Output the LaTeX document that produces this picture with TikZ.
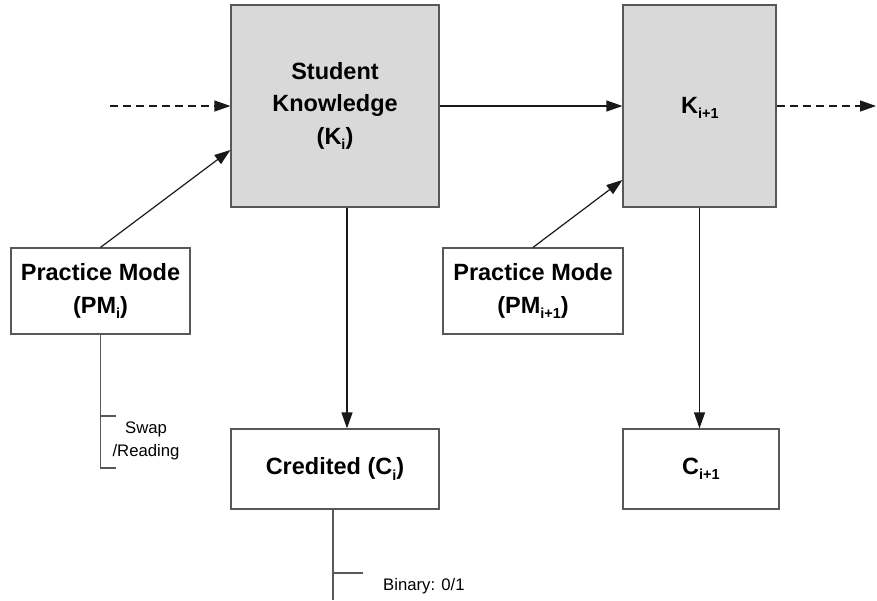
\documentclass[tikz,border=0pt]{standalone}
\usepackage{fontspec}
\setmainfont{Liberation Sans}
\usetikzlibrary{arrows.meta,calc}
\definecolor{boxgray}{HTML}{D9D9D9}
\definecolor{edgegray}{HTML}{585858}
\newcommand{\mysub}[1]{\raisebox{-0.22em}{\fontsize{14.5}{14.5}\selectfont #1}}
\tikzset{
  bigtext/.style={font=\fontsize{23.5}{32.5}\selectfont\bfseries, align=center, inner sep=0pt},
  smalltext/.style={font=\fontsize{16.7}{23}\selectfont, align=center, inner sep=0pt},
  kbox/.style={draw=edgegray, line width=1.2pt, fill=boxgray, rectangle, inner sep=0pt},
  wbox/.style={draw=edgegray, line width=1.2pt, fill=white, rectangle, inner sep=0pt},
  arr/.style={draw=black!90, line width=1.2pt, -{Triangle[length=16pt,width=11pt]}},
  darr/.style={arr, dash pattern=on 8pt off 5pt},
  note/.style={draw=edgegray, line width=1.2pt},
}
\begin{document}
\begin{tikzpicture}[x=1pt,y=-1pt]
\useasboundingbox (0,0) rectangle (877,600);
% boxes
\node[kbox, minimum width=208pt, minimum height=202pt] (SK) at (335,106) {};
\node[bigtext] (SKt) at (SK.center) {Student\\Knowledge\\(K\mysub{i})};
\node[kbox, minimum width=153pt, minimum height=202pt] (K1) at (699.5,106) {};
\node[bigtext] (K1t) at (700,108) {K\mysub{i+1}};
\node[wbox, minimum width=179pt, minimum height=86pt] (PMi) at (100.5,291) {};
\node[bigtext] (PMit) at (PMi.center) {Practice Mode\\(PM\mysub{i})};
\node[wbox, minimum width=180pt, minimum height=86pt] (PM1) at (533,291) {};
\node[bigtext] (PM1t) at (PM1.center) {Practice Mode\\(PM\mysub{i+1})};
\node[wbox, minimum width=208pt, minimum height=80pt] (Ci) at (335,469) {};
\node[bigtext] (Cit) at (Ci.center) {Credited (C\mysub{i})};
\node[wbox, minimum width=156pt, minimum height=80pt] (C1) at (701,469) {};
\node[bigtext] (C1t) at (C1.center) {C\mysub{i+1}};
% free ends
\coordinate (in) at (110,106);
\coordinate (out) at (876,106);
% connectors
\draw[darr] (in) -- (SK.west);
\draw[arr] (SK.east) -- (K1.west);
\draw[darr] (K1.east) -- (out);
\draw[arr] (PMi.north) -- ([yshift=-44pt]SK.west);
\draw[arr] (PM1.north) -- ([yshift=-74pt]K1.west);
\draw[arr] ([xshift=12pt]SK.south) -- ([xshift=12pt]SK.south |- Ci.north);
\draw[arr] (K1.south) -- (K1.south |- C1.north);
% annotations
\coordinate (sw1) at (100.5,416);
\coordinate (sw2) at (100.5,468);
\coordinate (bn) at (333,573);
\coordinate (bnend) at (333,600);
\draw[note] (PMi.south) -- (sw2) -- ++(15,0);
\draw[note] (sw1) -- ++(15,0);
\node[smalltext] (swap) at (146,441) {Swap\\/Reading};
\draw[note] ([xshift=-2pt]Ci.south) -- (bnend);
\draw[note] (bn) -- ++(30,0);
\node[smalltext, anchor=west] (bin) at (383,586) {Binary: 0/1};
\end{tikzpicture}
\end{document}
